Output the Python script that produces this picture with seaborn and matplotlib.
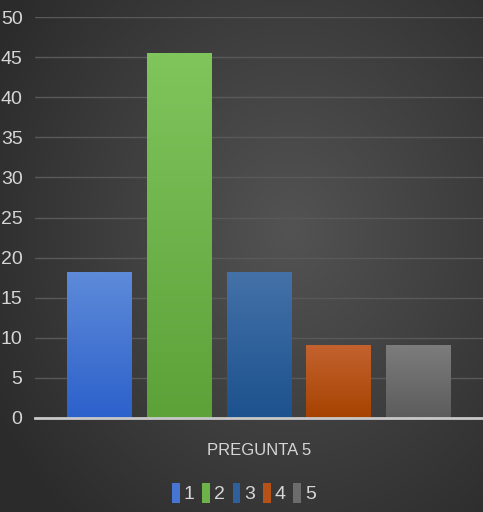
import numpy as np
import pandas as pd
import seaborn as sns
import matplotlib.pyplot as plt
from matplotlib.patches import Patch
from matplotlib.colors import LinearSegmentedColormap

categories = ["1", "2", "3", "4", "5"]
values = [18.18, 45.45, 18.18, 9.09, 9.09]
group = "PREGUNTA 5"
top_colors = ["#5d8ad9", "#80c45c", "#4471a8", "#c4622f", "#7c7c7c"]
bottom_colors = ["#2d61cb", "#5ca239", "#1c528e", "#a64301", "#5c5c5c"]
legend_colors = ["#4675d2", "#6db34a", "#2f609c", "#b65218", "#6c6c6c"]
yticks = [0, 5, 10, 15, 20, 25, 30, 35, 40, 45, 50]

sns.set_style("white")
plt.rcParams["font.family"] = ["Liberation Sans", "DejaVu Sans"]
txt = "#d6d6d6"

df = pd.DataFrame({"grupo": [group] * 5, "resp": categories, "pct": values})

fig = plt.figure(figsize=(4.83, 5.12), dpi=100)

# dark radial background
bg = fig.add_axes([0, 0, 1, 1], zorder=-10)
yy, xx = np.mgrid[0:1:256j, 0:1:256j]
r = np.sqrt(((xx - 0.6) / 1.0) ** 2 + ((yy - 0.45) / 1.1) ** 2)
bgmap = LinearSegmentedColormap.from_list("bg", ["#535353", "#2b2b2b"])
bg.imshow(r, cmap=bgmap, aspect="auto", extent=[0, 1, 0, 1], vmin=0, vmax=0.7)
bg.axis("off")

ax = fig.add_axes([35 / 483, 94 / 512, 448 / 483, 401 / 512])
ax.patch.set_alpha(0)
sns.barplot(data=df, x="grupo", y="pct", hue="resp", palette=legend_colors,
            width=0.89, gap=0.19, legend=False, linewidth=0, ax=ax)

ax.set_yticks(yticks)
ax.grid(axis="y", color="#595959", linewidth=1)
ax.set_axisbelow(True)
for s in ["top", "right", "left"]:
    ax.spines[s].set_visible(False)
ax.spines["bottom"].set_color("#c8c8c8")
ax.spines["bottom"].set_linewidth(2)
ax.tick_params(axis="y", colors=txt, labelsize=14, length=0, pad=9)
ax.tick_params(axis="x", colors=txt, labelsize=12, length=0, pad=18)
ax.set_xlabel("")
ax.set_ylabel("")

# vertical gradient on each bar
for bar, c1, c2 in zip(ax.patches, top_colors, bottom_colors):
    x0, y0 = bar.get_x(), bar.get_y()
    w, h = bar.get_width(), bar.get_height()
    cm = LinearSegmentedColormap.from_list("g", [c2, c1])
    grad = np.linspace(0, 1, 100).reshape(-1, 1)
    im = ax.imshow(grad, cmap=cm, aspect="auto", origin="lower",
                   extent=[x0, x0 + w, y0, y0 + h], zorder=bar.get_zorder() + 0.1)
    im.set_clip_path(bar)
ax.set_xlim(-0.5, 0.5)
ax.set_ylim(0, 50)

handles = [Patch(facecolor=c, edgecolor="none") for c in legend_colors]
fig.legend(handles, categories, loc="center", bbox_to_anchor=(0.505, 1 - 493 / 512),
           ncol=5, frameon=False, handlelength=0.4, handleheight=1.2,
           handletextpad=0.2, columnspacing=0.4, labelcolor=txt, fontsize=14)

fig.savefig("out.png", dpi=100)
